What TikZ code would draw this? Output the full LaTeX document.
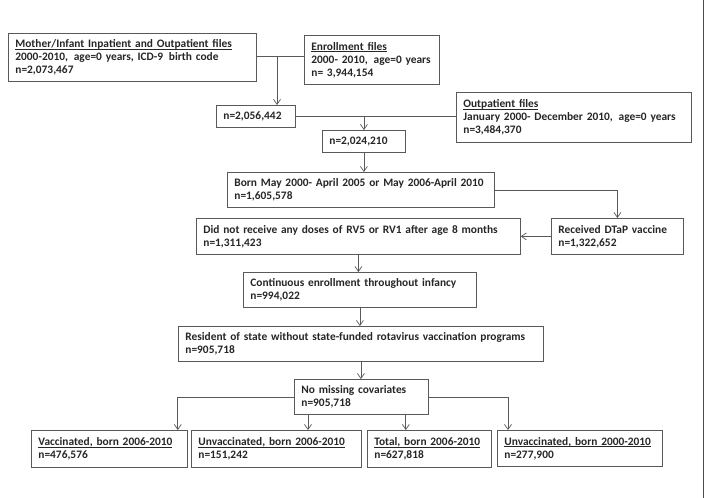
\documentclass[tikz,border=0pt]{standalone}
\usepackage{fontspec}
\setmainfont{Carlito}
\usetikzlibrary{arrows.meta}
\newcommand{\ul}[1]{\setbox0\hbox{#1}\rlap{\rule[-1.6pt]{\wd0}{0.7pt}}\box0}
\begin{document}
\begin{tikzpicture}[x=1pt,y=-1pt,
  box/.style={draw=black!65, line width=0.8pt, anchor=north west, inner xsep=7pt, inner ysep=1pt,
    align=left, font=\bfseries\fontsize{11.4}{13}\selectfont, text=black!85},
  conn/.style={draw=black!65, line width=0.7pt},
  arr/.style={conn, -{Straight Barb[length=5pt,width=7pt,line width=0.7pt]}}]
\useasboundingbox (0,0) rectangle (710,498);
\fill[white] (0,0) rectangle (710,498);
\draw[black!70, line width=1.3pt] (703.5,0) -- (703.5,498);

\node[box, text width=234pt, minimum height=48pt] (m1) at (8,33)
  {\ul{Mother/Infant Inpatient and Outpatient files}\\2000-2010,\hspace{2pt} age=0 years, ICD-9\hspace{2pt} birth code\\n=2,073,467};
\node[box, text width=121pt, minimum height=49pt] (enr) at (304,35)
  {\ul{Enrollment files}\\2000- 2010,\hspace{2pt} age=0 years\\n= 3,944,154};
\node[box, text width=65pt, minimum height=22pt] (n1) at (216,105) {n=2,056,442};
\node[box, text width=221pt, minimum height=50pt] (outp) at (456,92)
  {\ul{Outpatient files}\\January 2000- December 2010,\hspace{2pt} age=0 years\\n=3,484,370};
\node[box, text width=69pt, minimum height=22pt] (n2) at (322,130) {n=2,024,210};
\node[box, text width=253pt, minimum height=35pt] (born) at (227,172)
  {Born May 2000- April 2005 or May 2006-April 2010\\n=1,605,578};
\node[box, text width=118pt, minimum height=36pt] (dtap) at (551,218)
  {Received DTaP vaccine\\n=1,322,652};
\node[box, text width=310pt, minimum height=36pt] (dnr) at (196,218)
  {Did not receive any doses of RV5 or RV1 after age 8 months\\n=1,311,423};
\node[box, text width=219pt, minimum height=35pt] (cont) at (243,272)
  {Continuous enrollment throughout infancy\\n=994,022};
\node[box, text width=351pt, minimum height=35pt] (res) at (178,326)
  {Resident of state without state-funded rotavirus vaccination programs\\n=905,718};
\node[box, text width=120pt, minimum height=35pt] (nm) at (294,379)
  {No missing covariates\\n=905,718};
\node[box, text width=142pt, minimum height=37pt] (b1) at (31,430)
  {\ul{Vaccinated, born 2006-2010}\\n=476,576};
\node[box, text width=156pt, minimum height=37pt] (b2) at (191,430)
  {\ul{Unvaccinated, born 2006-2010}\\n=151,242};
\node[box, text width=110pt, minimum height=37pt] (b3) at (367,430)
  {\ul{Total, born 2006-2010}\\n=627,818};
\node[box, text width=151pt, minimum height=36pt] (b4) at (497,430)
  {\ul{Unvaccinated, born 2000-2010}\\n=277,900};

\coordinate (j1) at (277,56);
\draw[conn] (m1.east |- j1) -- (enr.west |- j1);
\draw[arr] (j1) -- (j1 |- n1.north);
\coordinate (j2) at (n2.north |- n1.east);
\draw[conn] (n1.east) -- (outp.west |- n1.east);
\draw[arr] (j2) -- (n2.north);
\draw[arr] (n2.south) -- (n2.south |- born.north);
\draw[arr] (born.east) -| (dtap.north);
\draw[arr] (dtap.west) -- (dnr.east |- dtap.west);
\draw[arr] (dnr.south) -- (dnr.south |- cont.north);
\draw[arr] (cont.south) -- (cont.south |- res.north);
\draw[arr] (res.south) -- (res.south |- nm.north);
\draw[arr] (nm.west) -| ([xshift=-10pt]b1.north east);
\draw[arr] (nm.east) -| ([xshift=11pt]b4.north west);
\draw[arr] ([xshift=14pt]nm.south west) -- ([xshift=14pt]nm.south west |- b2.north);
\draw[arr] ([xshift=-23pt]nm.south east) -- ([xshift=-23pt]nm.south east |- b3.north);
\end{tikzpicture}
\end{document}
